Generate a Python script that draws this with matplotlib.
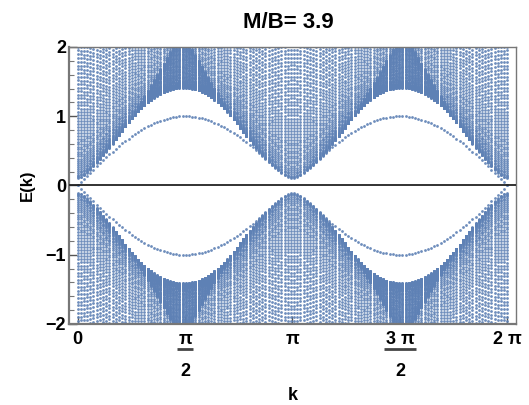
import numpy as np
import matplotlib
matplotlib.use("Agg")
import matplotlib.pyplot as plt
from matplotlib.ticker import MultipleLocator

# ---- model parameters (ribbon band structure, title M/B = 3.9) ----
M_over_B = 3.9
A_hop = 1.0
B_hop = 1.0
n_sites = 100          # sites across the ribbon
n_k = 136              # k samples over [0, 2pi]

title_text = "M/B= 3.9"
x_tick_values = [0, np.pi / 2, np.pi, 3 * np.pi / 2, 2 * np.pi]
y_tick_values = [-2, -1, 0, 1, 2]
y_tick_labels = ["\u22122", "\u22121", "0", "1", "2"]

# ---- spectrum of the ribbon ----
M = M_over_B * B_hop
sx = np.array([[0, 1], [1, 0]], dtype=complex)
sy = np.array([[0, -1j], [1j, 0]], dtype=complex)
sz = np.array([[1, 0], [0, -1]], dtype=complex)
k_vals = np.linspace(0, 2 * np.pi, n_k)
T = B_hop * sz - 0.5j * A_hop * sy
shift = np.eye(n_sites, k=-1)
H_hop = np.kron(shift, T) + np.kron(shift, T).conj().T
Hs = []
for k in k_vals:
    onsite = (M - 4 * B_hop + 2 * B_hop * np.cos(k)) * sz + A_hop * np.sin(k) * sx
    Hs.append(np.kron(np.eye(n_sites), onsite) + H_hop)
energies = np.linalg.eigvalsh(np.array(Hs))   # (n_k, 2*n_sites)

# ---- plot ----
plt.rcParams['font.family'] = ['Liberation Sans', 'DejaVu Sans']
plt.rcParams['font.weight'] = 'bold'
fig = plt.figure(figsize=(5.29, 4.05), dpi=100)
ax = fig.add_axes([0.1304, 0.2, 0.845, 0.684])

col = '#5E81B5'
kk = np.repeat(k_vals[:, None], energies.shape[1], axis=1)
ax.plot(kk.ravel(), energies.ravel(), 'o', ms=2.0, mec='none', mfc=col, alpha=0.9)

ax.axhline(0, color='#222222', lw=1.3, zorder=3)

pad = 0.02 * 2 * np.pi
ax.set_xlim(-pad, 2 * np.pi + pad)
ax.set_ylim(-2, 2)

for side in ['left', 'bottom']:
    ax.spines[side].set_color('#777777')
    ax.spines[side].set_linewidth(1.6)
for side in ['top', 'right']:
    ax.spines[side].set_color('#777777')
    ax.spines[side].set_linewidth(1.0)

ax.set_yticks(y_tick_values)
ax.set_yticklabels(y_tick_labels, fontsize=13, fontweight='bold')
ax.yaxis.set_minor_locator(MultipleLocator(0.2))
ax.tick_params(axis='y', which='major', direction='in', length=6, width=1, color='#555555', pad=2)
ax.tick_params(axis='y', which='minor', direction='in', length=3.5, width=0.8, color='#777777')
ax.set_xticks(x_tick_values)
ax.set_xticklabels([])
ax.tick_params(axis='x', which='major', direction='in', length=6, width=1, color='#555555')

# x tick labels (Mathematica-style stacked fractions)
tf = ax.get_xaxis_transform()
lab_kw = dict(fontsize=13, fontweight='bold', ha='center', va='top', transform=tf)
ax.text(x_tick_values[0], -0.025, "0", **lab_kw)
ax.text(x_tick_values[2], -0.025, "\u03c0", **lab_kw)
ax.text(x_tick_values[4], -0.025, "2 \u03c0", **lab_kw)
ax.text(x_tick_values[1], -0.025, "\u03c0", **lab_kw)
ax.text(x_tick_values[3], -0.025, "3 \u03c0", **lab_kw)
for xv, half in [(x_tick_values[1], 0.12), (x_tick_values[3], 0.23)]:
    ax.plot([xv - half, xv + half], [-0.09, -0.09], color='#444444', lw=2,
            transform=tf, clip_on=False, solid_capstyle='butt')
    ax.text(xv, -0.14, "2", **lab_kw)

ax.text(np.pi, -0.258, "k", fontsize=13, fontweight='bold', ha='center',
        va='center', transform=tf)
ax.set_ylabel("E(k)", fontsize=12, fontweight='bold', labelpad=8)
fig.text(0.545, 0.945, title_text, fontsize=16, fontweight='bold', ha='center', va='center')

fig.savefig("out.png", dpi=100)
